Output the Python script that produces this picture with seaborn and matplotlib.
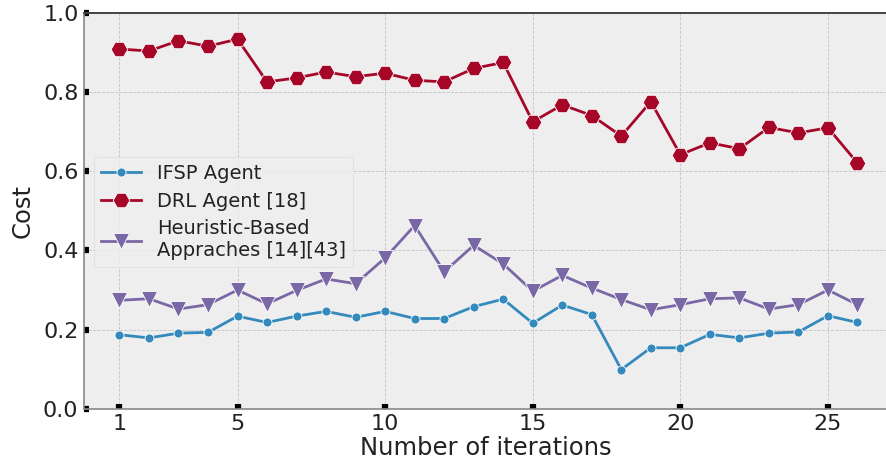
import matplotlib
matplotlib.use("Agg")
import matplotlib.pyplot as plt
import numpy as np
import pandas as pd
import seaborn as sns

# Cost per iteration for each method
iterations = list(range(1, 27))
ifsp_cost = [0.187, 0.179, 0.191, 0.193, 0.234, 0.218, 0.234, 0.246, 0.231, 0.246,
             0.228, 0.228, 0.258, 0.277, 0.216, 0.262, 0.238, 0.099, 0.154, 0.154,
             0.188, 0.179, 0.191, 0.194, 0.235, 0.218]
drl_cost = [0.909, 0.904, 0.930, 0.916, 0.934, 0.826, 0.836, 0.851, 0.839, 0.848,
            0.830, 0.826, 0.860, 0.875, 0.725, 0.768, 0.741, 0.689, 0.776, 0.642,
            0.672, 0.657, 0.711, 0.697, 0.710, 0.621]
heuristic_cost = [0.274, 0.278, 0.252, 0.263, 0.300, 0.265, 0.299, 0.328, 0.316, 0.381,
                  0.463, 0.346, 0.413, 0.366, 0.297, 0.337, 0.305, 0.276, 0.250, 0.263,
                  0.278, 0.280, 0.252, 0.263, 0.300, 0.263]

labels = ["IFSP Agent", "DRL Agent [18]", "Heuristic-Based\nAppraches [14][43]"]
x_ticks = [1, 5, 10, 15, 20, 25]
y_ticks = [0.0, 0.2, 0.4, 0.6, 0.8, 1.0]

plt.style.use("bmh")
plt.rcParams["font.family"] = ["DejaVu Sans"]
plt.rcParams["text.color"] = "#222222"
plt.rcParams["axes.labelcolor"] = "#222222"

df = pd.DataFrame({
    "iteration": iterations * 3,
    "cost": ifsp_cost + drl_cost + heuristic_cost,
    "method": [labels[0]] * 26 + [labels[1]] * 26 + [labels[2]] * 26,
})

styles = {
    labels[0]: dict(color="#348ABD", marker="o", markersize=6.5),
    labels[1]: dict(color="#A60628", marker="H", markersize=12),
    labels[2]: dict(color="#7A68A6", marker="v", markersize=12),
}

fig = plt.figure(figsize=(8.87, 4.65), dpi=100)
ax = fig.add_axes([0.0947, 0.121, 0.9053, 0.851])

for name in labels:
    sub = df[df["method"] == name]
    st = styles[name]
    sns.lineplot(data=sub, x="iteration", y="cost", ax=ax, label=name,
                 color=st["color"], marker=st["marker"], markersize=st["markersize"],
                 markeredgecolor="white", markeredgewidth=0.6, linewidth=2.0)

ax.set_xlim(-0.2, 27.0)
ax.set_ylim(0.0, 1.0)
ax.set_xticks(x_ticks)
ax.set_xticklabels([str(t) for t in x_ticks])
ax.set_yticks(y_ticks)
ax.set_yticklabels([f"{t:.1f}" for t in y_ticks])

ax.set_facecolor("#eeeeee")
ax.grid(True, color="#c4c4c4", linestyle="--", linewidth=0.6)
ax.set_axisbelow(True)

ax.tick_params(axis="both", which="major", direction="in", length=3.5, width=4.5,
               color="black", labelsize=16, labelcolor="#222222", pad=4,
               top=False, right=False, bottom=True, left=True)

for side in ["left", "bottom"]:
    ax.spines[side].set_color("#888888")
    ax.spines[side].set_linewidth(1.2)
ax.spines["top"].set_color("#444444")
ax.spines["top"].set_linewidth(1.4)
ax.spines["right"].set_color("#888888")

ax.set_xlabel("Number of iterations", fontsize=17.5, labelpad=1)
ax.set_ylabel("Cost", fontsize=17.5, labelpad=6)

leg = ax.legend(loc="center left", bbox_to_anchor=(0.0, 0.497), fontsize=14,
                frameon=True, fancybox=True, framealpha=0.8,
                handlelength=2.1, labelspacing=0.45, borderpad=0.35)
leg.get_frame().set_facecolor("#eeeeee")
leg.get_frame().set_edgecolor("#d8d8d8")

fig.savefig("out.png", dpi=100)
